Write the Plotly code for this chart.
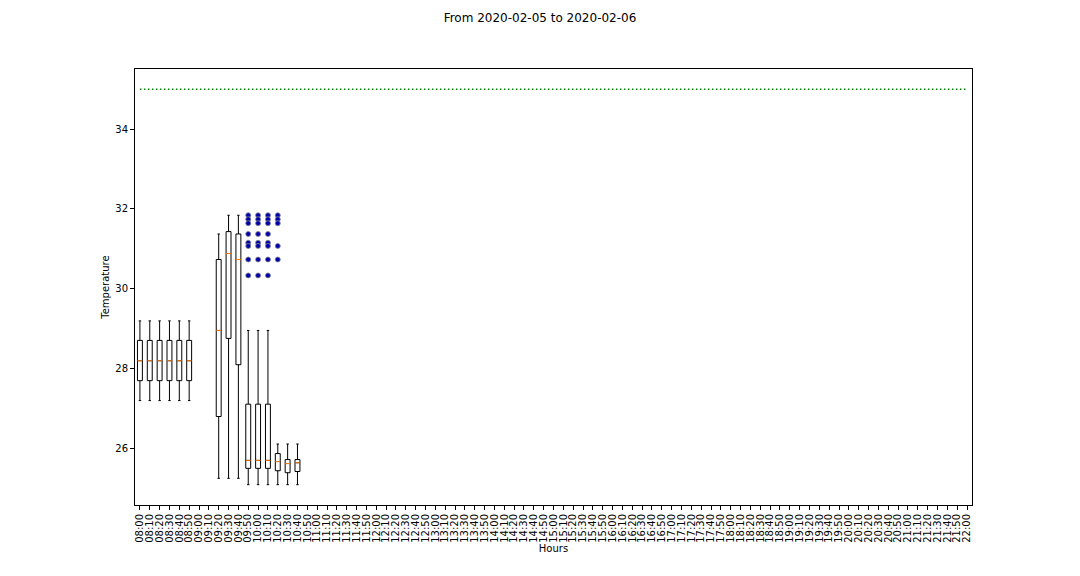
import plotly.graph_objects as go

# Categories: 10-minute slots from 08:00 to 22:00
hours = [f"{h:02d}:{m:02d}" for h in range(8, 23) for m in range(0, 60, 10) if not (h == 22 and m > 0)]

# Box statistics
box_hours = ["08:00", "08:10", "08:20", "08:30", "08:40", "08:50",
             "09:20", "09:30", "09:40", "09:50", "10:00", "10:10",
             "10:20", "10:30", "10:40"]
box_low = [27.19, 27.19, 27.19, 27.19, 27.19, 27.19,
           25.24, 25.24, 25.24, 25.08, 25.08, 25.08,
           25.08, 25.08, 25.08]
box_q1 = [27.69, 27.69, 27.69, 27.69, 27.69, 27.69,
          26.79, 28.75, 28.09, 25.49, 25.49, 25.49,
          25.43, 25.38, 25.41]
box_median = [28.19, 28.19, 28.19, 28.19, 28.19, 28.19,
              28.95, 30.88, 30.73, 25.69, 25.69, 25.69,
              25.66, 25.61, 25.63]
box_q3 = [28.70, 28.70, 28.70, 28.70, 28.70, 28.70,
          30.73, 31.43, 31.37, 27.10, 27.10, 27.10,
          25.86, 25.71, 25.71]
box_high = [29.19, 29.19, 29.19, 29.19, 29.19, 29.19,
            31.37, 31.84, 31.84, 28.95, 28.95, 28.95,
            26.10, 26.10, 26.10]

# Outliers
flier_hours = (["09:50"] * 8 + ["10:00"] * 8 + ["10:10"] * 8 + ["10:20"] * 5)
flier_values = ([31.84, 31.74, 31.64, 31.37, 31.15, 31.07, 30.73, 30.33] * 3
                + [31.84, 31.74, 31.64, 31.07, 30.73])

threshold = 35.0

pos = {h: i + 1 for i, h in enumerate(hours)}
bx = [pos[h] for h in box_hours]

fig = go.Figure()

fig.add_trace(go.Scatter(
    x=[pos[hours[0]], pos[hours[-1]]], y=[threshold, threshold],
    mode="lines", line=dict(color="#008000", width=1.5, dash="1.5px,2.5px"),
    hoverinfo="skip", showlegend=False))

fig.add_trace(go.Box(
    x=bx, q1=box_q1, median=box_median, q3=box_q3,
    lowerfence=box_low, upperfence=box_high,
    width=0.5, whiskerwidth=0.5, fillcolor="white",
    line=dict(color="black", width=1), boxpoints=False,
    showlegend=False))

mx, my = [], []
for p, m in zip(bx, box_median):
    mx += [p - 0.25, p + 0.25, None]
    my += [m, m, None]
fig.add_trace(go.Scatter(x=mx, y=my, mode="lines",
                         line=dict(color="#ff7f0e", width=1),
                         hoverinfo="skip", showlegend=False))

fig.add_trace(go.Scatter(
    x=[pos[h] for h in flier_hours], y=flier_values, mode="markers",
    marker=dict(size=5, color="#0000b0", line=dict(color="#888888", width=0.8)),
    showlegend=False))

fig.update_layout(
    width=1080, height=576,
    margin=dict(l=135, r=108, t=69, b=71),
    paper_bgcolor="white", plot_bgcolor="white",
    font=dict(family="DejaVu Sans", size=10, color="black"),
    title=dict(text="From 2020-02-05 to 2020-02-06", x=0.5, xanchor="center",
               y=1 - 18 / 576, yanchor="middle", yref="container",
               font=dict(size=12, color="black")),
    showlegend=False,
)
fig.update_xaxes(
    range=[0.5, len(hours) + 0.5], tickmode="array",
    tickvals=list(range(1, len(hours) + 1)), ticktext=hours,
    tickangle=-90, ticks="outside", ticklen=4, tickcolor="black",
    showline=True, linecolor="black", linewidth=1, mirror=True,
    showgrid=False, zeroline=False,
    title=dict(text="Hours", standoff=2, font=dict(size=10)))
fig.update_yaxes(
    range=[24.57, 35.51], tickvals=[26, 28, 30, 32, 34],
    ticks="outside", ticklen=4, tickcolor="black",
    showline=True, linecolor="black", linewidth=1, mirror=True,
    showgrid=False, zeroline=False,
    title=dict(text="Temperature", standoff=3, font=dict(size=10)))

fig.write_html("out.html")
